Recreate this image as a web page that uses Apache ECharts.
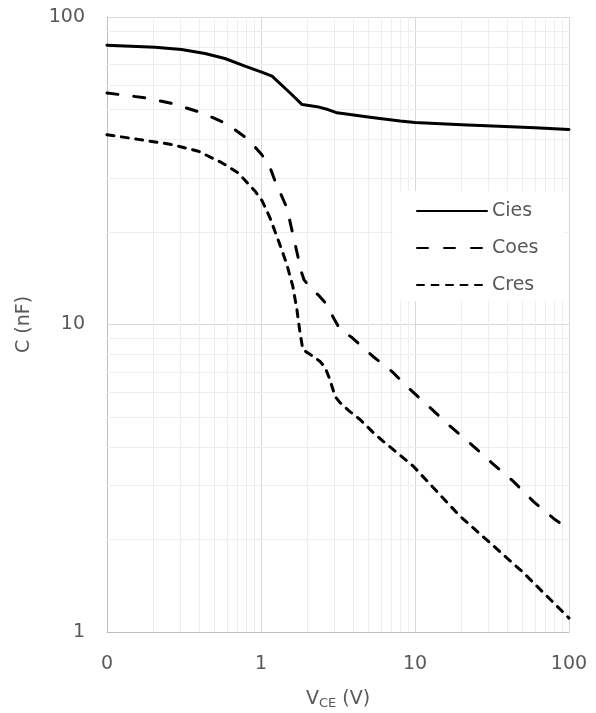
<!DOCTYPE html>
<html>
<head>
<meta charset="utf-8">
<script src="https://cdn.jsdelivr.net/npm/echarts@6/dist/echarts.min.js"></script>
<style>
html,body{margin:0;padding:0;background:#fff;}
#chart{width:596px;height:713px;}
</style>
</head>
<body>
<div id="chart"></div>
<script>
// ---- data ----
var ciesV = [0.1, 0.205, 0.305, 0.433, 0.583, 0.787, 1.0, 1.18, 1.54, 1.85, 2.31, 2.72, 3.12, 3.78, 5.1, 8, 10, 20, 35, 60, 100];
var ciesC = [81.0, 79.8, 78.4, 76.1, 73.3, 69.2, 66.3, 64.2, 56.7, 51.9, 51.1, 50.0, 48.8, 48.2, 47.2, 45.9, 45.4, 44.6, 44.1, 43.6, 43.1];

var coesV = [0.1, 0.177, 0.27, 0.412, 0.598, 0.827, 1.01, 1.14, 1.23, 1.33, 1.47, 1.64, 1.83, 1.9, 2.18, 2.35, 2.68, 2.93, 3.26, 3.9, 4.51, 5.34, 7.1, 9.29, 12.5, 16.9, 23.3, 31.5, 43.5, 58.6, 81.1, 100];
var coesC = [56.6, 54.6, 52.2, 48.8, 45.0, 40.0, 35.7, 32.6, 29.4, 26.9, 24.0, 18.9, 14.8, 14.0, 12.8, 12.5, 11.6, 10.6, 9.63, 9.07, 8.48, 7.87, 7.03, 6.15, 5.37, 4.67, 4.07, 3.55, 3.09, 2.66, 2.32, 2.16];

var cresV = [0.1, 0.16, 0.263, 0.392, 0.556, 0.713, 0.917, 1.015, 1.14, 1.29, 1.47, 1.61, 1.71, 1.79, 1.87, 2.18, 2.42, 2.61, 2.80, 3.03, 3.26, 3.78, 4.39, 5.34, 6.22, 9.75, 19.6, 30.7, 50.5, 100];
var cresC = [41.4, 40.0, 38.5, 36.6, 33.6, 31.1, 27.1, 25.3, 22.3, 18.9, 15.7, 13.3, 11.2, 9.44, 8.29, 7.87, 7.58, 7.25, 6.62, 5.83, 5.57, 5.21, 4.91, 4.46, 4.17, 3.46, 2.38, 1.95, 1.56, 1.11];

var seriesNames = ['Cies', 'Coes', 'Cres'];
var xTickLabels = {'0.1': '0', '1': '1', '10': '10', '100': '100'};
var yTickLabels = {'1': '1', '10': '10', '100': '100'};
var xMinor = [0.2,0.3,0.4,0.5,0.6,0.7,0.8,0.9,2,3,4,5,6,7,8,9,20,30,40,50,60,70,80,90];
var yMinor = [2,3,4,5,6,7,8,9,20,30,40,50,60,70,80,90];

function zip(a, b) { return a.map(function (v, i) { return [v, b[i]]; }); }
function lbl(map) {
  return function (v) {
    var k = String(+v.toPrecision(6));
    return map.hasOwnProperty(k) ? map[k] : '';
  };
}

var FONT = 'DejaVu Sans';
var TXT = '#595959';

var chart = echarts.init(document.getElementById('chart'), null, {renderer: 'canvas'});
var lineBase = {type: 'line', showSymbol: false, symbol: 'none', smooth: false, z: 3, animation: false};

chart.setOption({
  animation: false,
  backgroundColor: '#ffffff',
  textStyle: {fontFamily: FONT},
  grid: {left: 107, top: 17, right: 27, height: 615, containLabel: false, outerBoundsMode: 'none'},
  xAxis: {
    type: 'log', logBase: 10, min: 0.1, max: 100,
    axisLine: {show: true, lineStyle: {color: '#bfbfbf', width: 1}},
    axisTick: {show: false},
    axisLabel: {margin: 23, fontSize: 19, color: TXT, fontFamily: FONT, formatter: lbl(xTickLabels)},
    splitLine: {show: true, lineStyle: {color: '#d9d9d9', width: 1}},
    name: '{v|V}{s|CE}{v| (V)}',
    nameLocation: 'middle', nameGap: 58,
    nameTextStyle: {
      color: TXT, fontFamily: FONT,
      rich: {
        v: {fontSize: 19, lineHeight: 20, verticalAlign: 'top', color: TXT, fontFamily: FONT},
        s: {fontSize: 13, lineHeight: 14, verticalAlign: 'bottom', color: TXT, fontFamily: FONT}
      }
    }
  },
  yAxis: {
    type: 'log', logBase: 10, min: 1, max: 100,
    axisLine: {show: true, lineStyle: {color: '#bfbfbf', width: 1}},
    axisTick: {show: false},
    axisLabel: {margin: 22, fontSize: 19, color: TXT, fontFamily: FONT, formatter: lbl(yTickLabels)},
    splitLine: {show: true, lineStyle: {color: '#d9d9d9', width: 1}},
    name: 'C (nF)', nameLocation: 'middle', nameGap: 73,
    nameTextStyle: {fontSize: 19, color: TXT, fontFamily: FONT}
  },
  legend: {
    show: true, orient: 'vertical', left: 393, top: 191,
    data: seriesNames,
    backgroundColor: '#ffffff',
    padding: [10, 26, 6, 23],
    itemWidth: 70, itemHeight: 20, itemGap: 17,
    itemStyle: {color: 'rgba(0,0,0,0)', borderColor: 'rgba(0,0,0,0)', borderWidth: 0},
    textStyle: {fontSize: 19, color: TXT, fontFamily: FONT, lineHeight: 20}
  },
  series: [
    {
      name: '_grid', type: 'line', data: [], z: 1, silent: true,
      markLine: {
        silent: true, symbol: 'none', animation: false, z: 1,
        label: {show: false},
        lineStyle: {color: '#eeeeee', type: 'solid', width: 1},
        emphasis: {disabled: true},
        data: xMinor.map(function (v) { return {xAxis: v}; }).concat(yMinor.map(function (v) { return {yAxis: v}; }))
      }
    },
    Object.assign({}, lineBase, {
      name: 'Cies', data: zip(ciesV, ciesC),
      itemStyle: {color: '#000'},
      lineStyle: {color: '#000', width: 3, type: 'solid', cap: 'round', join: 'round'}
    }),
    Object.assign({}, lineBase, {
      name: 'Coes', data: zip(coesV, coesC),
      itemStyle: {color: '#000'},
      lineStyle: {color: '#000', width: 3, type: [11, 16], cap: 'round', join: 'round'}
    }),
    Object.assign({}, lineBase, {
      name: 'Cres', data: zip(cresV, cresC),
      itemStyle: {color: '#000'},
      lineStyle: {color: '#000', width: 3, type: [7, 7.5], cap: 'round', join: 'round'}
    })
  ]
});
</script>
</body>
</html>
